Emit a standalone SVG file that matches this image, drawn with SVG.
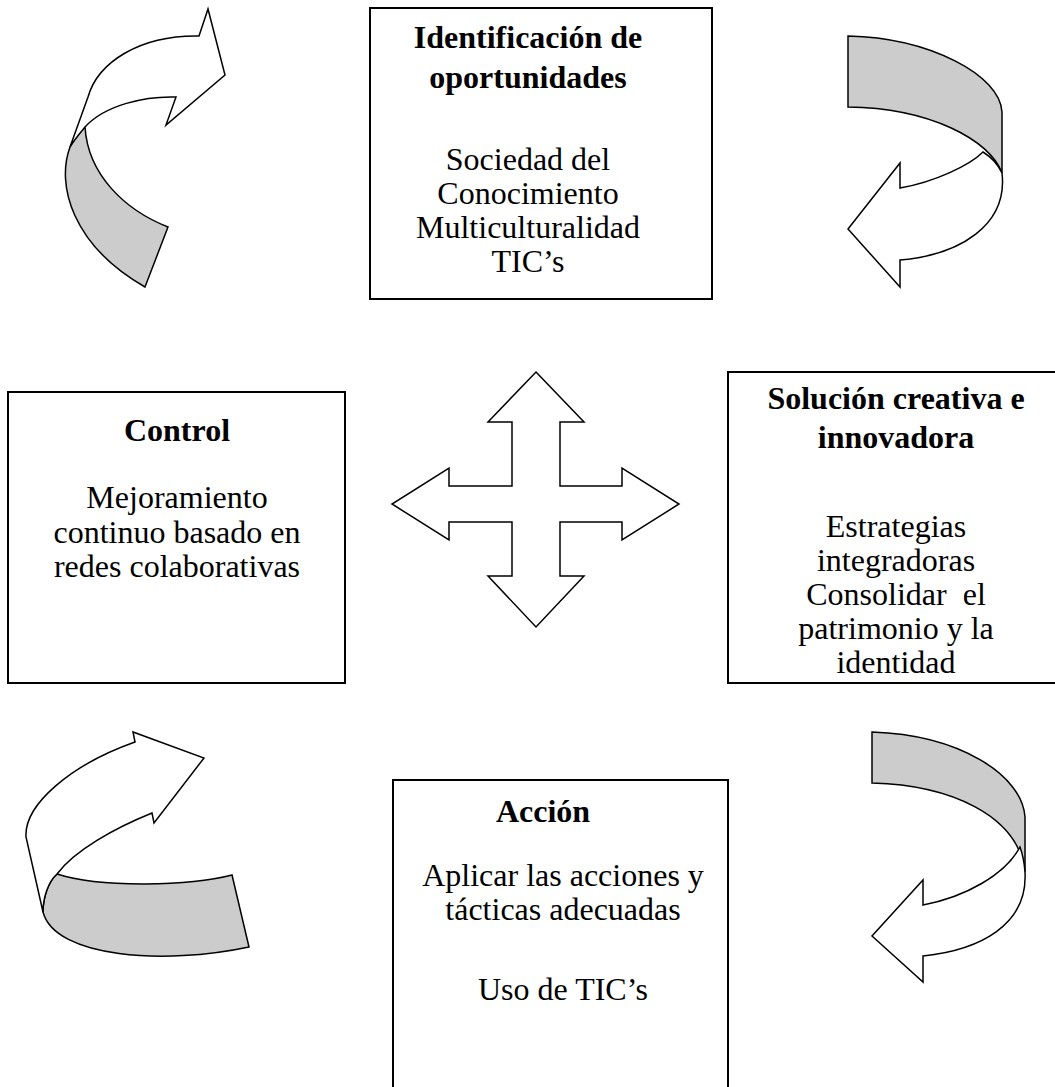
<svg xmlns="http://www.w3.org/2000/svg" width="1055" height="1087" viewBox="0 0 1055 1087">
<style>
.box{fill:#fff;stroke:#000;stroke-width:2}
.arw{stroke:#000;stroke-width:1.5;stroke-linejoin:miter}
.w{fill:#fff}
.g{fill:#cccccc}
text{font-family:"Liberation Serif","Times New Roman",serif;font-size:32px;fill:#000;text-anchor:middle}
.b{font-weight:bold}
</style>
<rect width="1055" height="1087" fill="#fff"/>
<g id="node-identificacion">
<rect class="box" x="370" y="8" width="342" height="291"/>
<text class="b" x="528" y="48">Identificación de</text>
<text class="b" x="528" y="88">oportunidades</text>
<text x="528" y="170">Sociedad del</text>
<text x="528" y="204">Conocimiento</text>
<text x="528" y="238">Multiculturalidad</text>
<text x="528" y="272">TIC’s</text>
</g>
<g id="node-control">
<rect class="box" x="8" y="392" width="337" height="291"/>
<text class="b" x="177" y="441">Control</text>
<text x="177" y="508">Mejoramiento</text>
<text x="177" y="543">continuo basado en</text>
<text x="177" y="577">redes colaborativas</text>
</g>
<g id="node-solucion">
<rect class="box" x="728" y="372" width="340" height="311"/>
<text class="b" x="896" y="409">Solución creativa e</text>
<text class="b" x="896" y="448">innovadora</text>
<text x="896" y="537">Estrategias</text>
<text x="896" y="571">integradoras</text>
<text x="896" y="605" xml:space="preserve">Consolidar  el</text>
<text x="896" y="639">patrimonio y la</text>
<text x="896" y="673">identidad</text>
</g>
<g id="node-accion">
<path class="box" d="M393,1090 L393,780 L728,780 L728,1090"/>
<text class="b" x="543" y="822">Acción</text>
<text x="563" y="886">Aplicar las acciones y</text>
<text x="563" y="920">tácticas adecuadas</text>
<text x="563" y="1000">Uso de TIC’s</text>
</g>
<g id="connectors">
<g id="arrow-top-left">
<path class="arw g" d="M70,147 C56,185 72,245 145,287 L168,227 C125,210 88,175 85,127 C80,133 74,140 70,147 Z"/>
<path class="arw w" d="M70,147 L88,97 C98,62 140,35 199,36 L208,9 L225,75 L166,125 L176,97 C145,96 105,105 85,127 C80,133 74,140 70,147 Z"/>
</g>
<g id="arrow-top-right">
<path class="arw g" d="M848,36 C930,38 1000,75 1002,112 L1002,173 C990,140 930,108 848,107 Z"/>
<path class="arw w" d="M983,152 Q996,160 1002,173 C1008,225 960,255 900,260 L900,287 L848,229 L900,163 L900,188 C935,182 970,165 983,152 Z"/>
</g>
<g id="arrow-bottom-left">
<path class="arw g" d="M57,874 C100,888 190,886 232,875 L249,947 C165,965 55,958 43,912 C43,898 48,882 57,874 Z"/>
<path class="arw w" d="M135,742 L133,732 L204,758 L154,823 L152,813 C115,828 75,850 57,874 C48,882 43,898 43,912 L26,837 C24,805 70,765 135,742 Z"/>
</g>
<g id="arrow-bottom-right">
<path class="arw g" d="M872,732 C960,735 1022,775 1025,817 L1025,872 C1018,815 950,785 872,783 Z"/>
<path class="arw w" d="M1020,847 Q1024,858 1025,872 C1028,925 980,950 923,956 L923,982 L872,936 L923,880 L923,905 C965,897 1005,875 1020,847 Z"/>
</g>
<g id="arrow-cross">
<path class="arw w" d="M536,372 L584,422 L560,422 L560,486 L622,486 L622,468 L679,504 L622,540 L622,522 L560,522 L560,576 L584,576 L536,627 L488,576 L512,576 L512,522 L449,522 L449,540 L392,504 L449,468 L449,486 L512,486 L512,422 L488,422 Z"/>
</g>
</g>
</svg>
